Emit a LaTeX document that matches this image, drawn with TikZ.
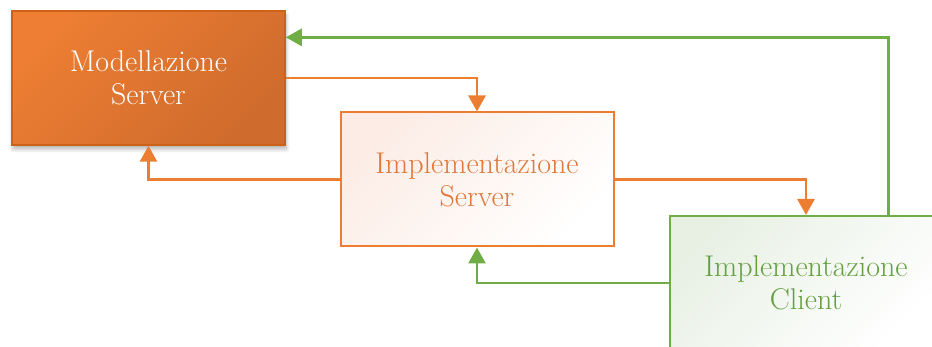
\documentclass[tikz,border=0pt]{standalone}
\usetikzlibrary{arrows.meta,calc,shadows.blur}

\definecolor{orangeA}{HTML}{ED7E33}
\definecolor{orangeB}{HTML}{CF6B2D}
\definecolor{orangeLine}{HTML}{ED7D31}
\definecolor{orangeEdge}{HTML}{C55A11}
\definecolor{orangeText}{HTML}{E0783A}
\definecolor{pinkTint}{HTML}{FCECE5}
\definecolor{greenLine}{HTML}{70AD47}
\definecolor{greenText}{HTML}{65A03E}
\definecolor{greenTint}{HTML}{E8F0E4}

\tikzset{
  box/.style={rectangle, minimum width=273pt, minimum height=134pt,
    align=center, font=\fontsize{30}{33}\selectfont, inner sep=0pt},
  solidbox/.style={box, draw=orangeEdge!80!orangeLine, line width=1.5pt,
    left color=orangeA, right color=orangeB, shading angle=45, text=white,
    blur shadow={shadow xshift=1pt, shadow yshift=-4pt, shadow blur steps=8,
      shadow opacity=30, shadow blur radius=4pt}},
  serverbox/.style={box, draw=orangeLine, line width=2pt,
    left color=pinkTint, right color=white, shading angle=45, text=orangeText},
  clientbox/.style={box, draw=greenLine, line width=2pt,
    left color=greenTint, right color=white, shading angle=45, text=greenText},
  link/.style={line width=2.8pt, -{Triangle[width=17pt,length=16pt]}},
  orangelink/.style={link, draw=orangeLine},
  greenlink/.style={link, draw=greenLine},
}

\begin{document}
\begin{tikzpicture}[x=1pt,y=-1pt]
  \useasboundingbox (0,0) rectangle (932,347);
  \clip (0,0) rectangle (932,347);

  % the three phases
  \node[solidbox]  (A) at (148.5,78)  {Modellazione\\Server};
  \node[serverbox] (B) at (477,179.5) {Implementazione\\Server};
  \node[clientbox] (C) at (806,283)   {Implementazione\\Client};

  % attachment points away from the side midpoints
  \coordinate (Ain)  at ($(A.north east)!0.2!(A.south east)$);
  \coordinate (Cout) at ($(C.north west)!0.8!(C.north east)$);

  % server modelling <-> server implementation
  \draw[orangelink] (A.east) -| (B.north);
  \draw[orangelink] (B.west) -| (A.south);
  \draw[orangelink] (B.east) -| (C.north);

  % feedback from the client
  \draw[greenlink] (C.west) -| (B.south);
  \draw[greenlink] (Cout) |- (Ain);
\end{tikzpicture}
\end{document}
